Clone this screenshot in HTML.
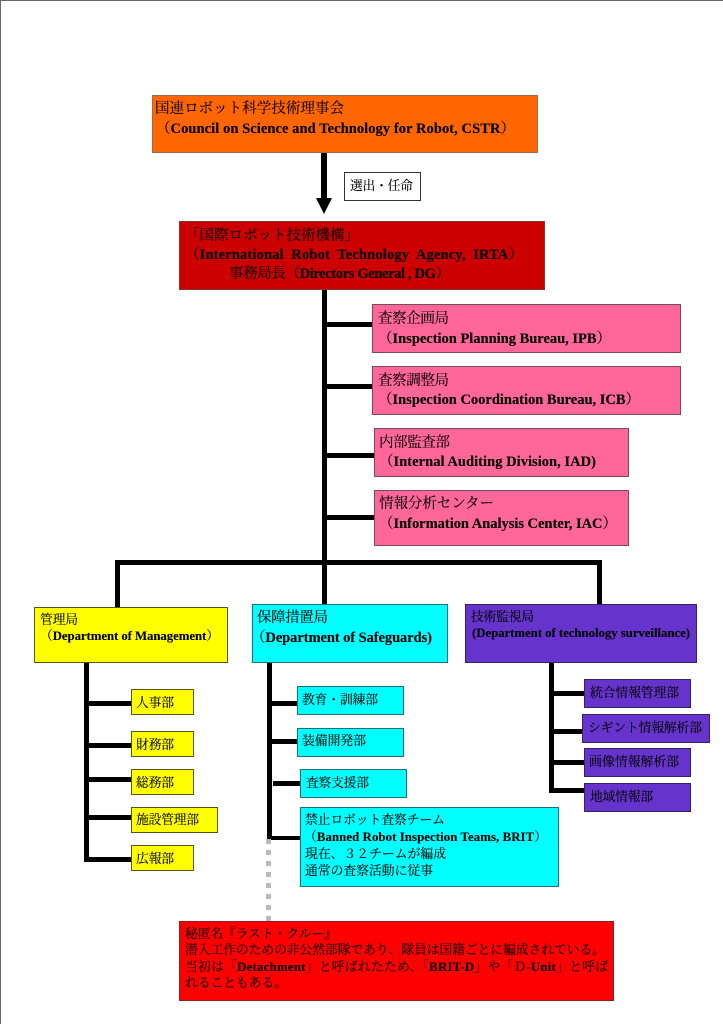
<!DOCTYPE html>
<html lang="ja">
<head>
<meta charset="utf-8">
<title>Organization chart</title>
<style>
html,body{margin:0;padding:0;background:#fff;width:723px;height:1024px;overflow:hidden}
svg{display:block;filter:blur(0.35px)}
text{font-family:"Liberation Serif","Noto Serif CJK JP","Noto Serif CJK SC",serif;font-size:14.5px;fill:#000;white-space:pre;stroke:#000;stroke-width:0.12px}
.s{font-size:12.8px}
tspan.b,.b{font-weight:bold}
.box{stroke-width:1}
</style>
</head>
<body>
<svg width="723" height="1024" viewBox="0 0 723 1024" xmlns="http://www.w3.org/2000/svg">
<rect width="723" height="1024" fill="#fff"/>
<rect x="0" y="0" width="723" height="1" fill="#666"/>
<rect x="0" y="0" width="1" height="1024" fill="#666"/>

<!-- connectors -->
<g fill="#000">
<rect x="321" y="152" width="6" height="47"/>
<polygon points="316,198 332,198 324,214"/>
<rect x="322" y="290" width="5" height="315"/>
<rect x="327" y="322" width="46" height="5"/>
<rect x="327" y="384" width="46" height="5"/>
<rect x="327" y="453" width="48" height="5"/>
<rect x="327" y="515" width="48" height="5"/>
<rect x="115" y="560" width="487" height="5"/>
<rect x="115" y="560" width="5" height="48"/>
<rect x="597" y="560" width="5" height="45"/>
<rect x="84" y="663" width="5" height="199"/>
<rect x="84" y="701" width="48" height="5"/>
<rect x="84" y="743" width="48" height="5"/>
<rect x="84" y="777" width="48" height="5"/>
<rect x="84" y="815" width="48" height="5"/>
<rect x="84" y="857" width="48" height="5"/>
<rect x="267" y="663" width="5" height="177"/>
<rect x="267" y="701" width="31" height="5"/>
<rect x="267" y="739" width="31" height="5"/>
<rect x="273" y="781" width="28" height="5"/>
<rect x="267" y="836" width="34" height="4"/>
<rect x="549" y="663" width="5" height="130"/>
<rect x="549" y="691" width="36" height="5"/>
<rect x="549" y="729" width="34" height="5"/>
<rect x="549" y="760" width="36" height="5"/>
<rect x="549" y="788" width="36" height="5"/>
</g>
<g fill="#bbb">
<rect x="266" y="839" width="5" height="5"/>
<rect x="266" y="850" width="5" height="5"/>
<rect x="266" y="861" width="5" height="5"/>
<rect x="266" y="872" width="5" height="5"/>
<rect x="266" y="883" width="5" height="5"/>
<rect x="266" y="894" width="5" height="5"/>
<rect x="266" y="905" width="5" height="5"/>
<rect x="266" y="916" width="5" height="5"/>
</g>

<!-- boxes -->
<rect class="box" x="152.5" y="95.5" width="385" height="57" fill="#ff6600" stroke="#a06a50"/>
<rect class="box" x="344.5" y="172.5" width="76" height="28" fill="#fff" stroke="#333"/>
<rect class="box" x="179.5" y="221.5" width="365" height="68" fill="#cc0000" stroke="#7a3a3a"/>
<g fill="#ff6699" stroke="#7a4a5a" class="box">
<rect x="372.5" y="304.5" width="308" height="48"/>
<rect x="372.5" y="366.5" width="308" height="48"/>
<rect x="374.5" y="428.5" width="254" height="48"/>
<rect x="374.5" y="490.5" width="254" height="55"/>
</g>
<g fill="#ffff00" stroke="#555522" class="box">
<rect x="34.5" y="607.5" width="193" height="55"/>
<rect x="131.5" y="689.5" width="62" height="25"/>
<rect x="131.5" y="731.5" width="62" height="25"/>
<rect x="131.5" y="769.5" width="62" height="25"/>
<rect x="131.5" y="807.5" width="86" height="25"/>
<rect x="131.5" y="845.5" width="62" height="25"/>
</g>
<g fill="#00ffff" stroke="#226f77" class="box">
<rect x="252.5" y="604.5" width="195" height="58"/>
<rect x="297.5" y="686.5" width="106" height="28"/>
<rect x="297.5" y="728.5" width="106" height="28"/>
<rect x="300.5" y="769.5" width="106" height="28"/>
<rect x="300.5" y="807.5" width="258" height="79"/>
</g>
<g fill="#6633cc" stroke="#33226a" class="box">
<rect x="465.5" y="604.5" width="231" height="58"/>
<rect x="584.5" y="679.5" width="106" height="28"/>
<rect x="582.5" y="714.5" width="127" height="28"/>
<rect x="584.5" y="748.5" width="106" height="28"/>
<rect x="584.5" y="783.5" width="106" height="28"/>
</g>
<rect class="box" x="179.5" y="921.5" width="434" height="79" fill="#ff0000" stroke="#8a2020"/>

<!-- text -->
<text x="155" y="113" textLength="189" lengthAdjust="spacing">国連ロボット科学技術理事会</text>
<text x="156" y="133" textLength="359" lengthAdjust="spacing">（<tspan class="b">Council on Science and Technology for Robot, CSTR</tspan>）</text>
<text class="s" x="350" y="190" textLength="63" lengthAdjust="spacing">選出・任命</text>

<text x="185" y="240" textLength="174" lengthAdjust="spacing">「国際ロボット技術機構」</text>
<text x="185" y="259" textLength="338" lengthAdjust="spacing">（<tspan class="b">International  Robot  Technology  Agency,  IRTA</tspan>）</text>
<text x="229" y="278" textLength="221" lengthAdjust="spacing">事務局長（<tspan class="b">Directors General , DG</tspan>）</text>

<text x="378" y="323" textLength="71" lengthAdjust="spacing">査察企画局</text>
<text x="378" y="343" textLength="233" lengthAdjust="spacing">（<tspan class="b">Inspection Planning Bureau, IPB</tspan>）</text>
<text x="378" y="385" textLength="71" lengthAdjust="spacing">査察調整局</text>
<text x="378" y="404" textLength="262" lengthAdjust="spacing">（<tspan class="b">Inspection Coordination Bureau, ICB</tspan>）</text>
<text x="379" y="447" textLength="71" lengthAdjust="spacing">内部監査部</text>
<text x="379" y="466" textLength="217" lengthAdjust="spacing">（<tspan class="b">Internal Auditing Division, IAD)</tspan></text>
<text x="379" y="508" textLength="115" lengthAdjust="spacing">情報分析センター</text>
<text x="379" y="528" textLength="238" lengthAdjust="spacing">（<tspan class="b">Information Analysis Center, IAC</tspan>）</text>

<text class="s" x="40" y="624" textLength="38" lengthAdjust="spacing">管理局</text>
<text class="s" x="40" y="640" textLength="179" lengthAdjust="spacing">（<tspan class="b">Department of Management</tspan>）</text>
<text x="257" y="622" textLength="71" lengthAdjust="spacing">保障措置局</text>
<text x="251" y="642" textLength="181" lengthAdjust="spacing">（<tspan class="b">Department of Safeguards)</tspan></text>
<text class="s" x="471" y="621" textLength="63" lengthAdjust="spacing">技術監視局</text>
<text class="s b" x="472" y="637" textLength="218" lengthAdjust="spacing">(Department of technology surveillance)</text>

<g class="s">
<text class="s" x="136" y="707" textLength="38" lengthAdjust="spacing">人事部</text>
<text class="s" x="136" y="749" textLength="38" lengthAdjust="spacing">財務部</text>
<text class="s" x="136" y="787" textLength="38" lengthAdjust="spacing">総務部</text>
<text class="s" x="136" y="824" textLength="63" lengthAdjust="spacing">施設管理部</text>
<text class="s" x="136" y="863" textLength="38" lengthAdjust="spacing">広報部</text>

<text class="s" x="302" y="704" textLength="76" lengthAdjust="spacing">教育・訓練部</text>
<text class="s" x="302" y="745" textLength="64" lengthAdjust="spacing">装備開発部</text>
<text class="s" x="306" y="787" textLength="63" lengthAdjust="spacing">査察支援部</text>
<text class="s" x="305" y="824" textLength="140" lengthAdjust="spacing">禁止ロボット査察チーム</text>
<text class="s" x="304" y="841" textLength="243" lengthAdjust="spacing">（<tspan class="b">Banned Robot Inspection Teams, BRIT</tspan>）</text>
<text class="s" x="305" y="858" textLength="141" lengthAdjust="spacing">現在、３２チームが編成</text>
<text class="s" x="305" y="875" textLength="128" lengthAdjust="spacing">通常の査察活動に従事</text>

<text class="s" x="590" y="697" textLength="89" lengthAdjust="spacing">統合情報管理部</text>
<text class="s" x="588" y="732" textLength="114" lengthAdjust="spacing">シギント情報解析部</text>
<text class="s" x="589" y="766" textLength="90" lengthAdjust="spacing">画像情報解析部</text>
<text class="s" x="590" y="801" textLength="63" lengthAdjust="spacing">地域情報部</text>

<text class="s" x="185" y="938" textLength="152" lengthAdjust="spacing">秘匿名『ラスト・クルー』</text>
<text class="s" x="185" y="954" textLength="420" lengthAdjust="spacing">潜入工作のための非公然部隊であり、隊員は国籍ごとに編成されている。</text>
<text class="s" x="185" y="971" textLength="423" lengthAdjust="spacing">当初は「<tspan class="b">Detachment</tspan>」と呼ばれたため、「<tspan class="b">BRIT-D</tspan>」や「Ｄ-<tspan class="b">Unit</tspan>」と呼ば</text>
<text class="s" x="185" y="987" textLength="102" lengthAdjust="spacing">れることもある。</text>
</g>
</svg>
</body>
</html>
